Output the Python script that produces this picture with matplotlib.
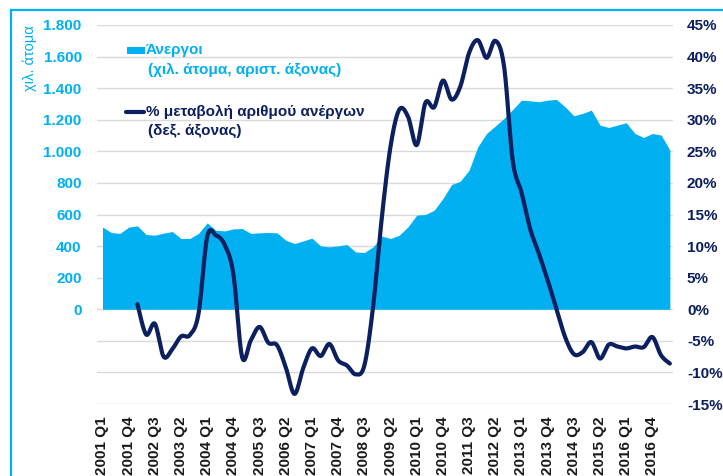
import numpy as np
import matplotlib
matplotlib.use('Agg')
import matplotlib.pyplot as plt
from matplotlib.lines import Line2D
from matplotlib.patches import Rectangle
from matplotlib.ticker import FuncFormatter

plt.rcParams['font.family'] = ['Liberation Sans', 'DejaVu Sans']

# τρίμηνα 2001 Q1 - 2017 Q2
quarters = [f'{y} Q{q}' for y in range(2001, 2018) for q in range(1, 5)][:66]

# άνεργοι, χιλ. άτομα (αριστ. άξονας)
unemployed = [521, 486, 480, 520, 528, 473, 469, 482, 492, 448, 448, 480, 547, 500, 496, 509, 511,
              480, 484, 486, 484, 437, 416, 433, 450, 401, 395, 401, 410, 363, 359, 395, 463,
              448, 469, 522, 596, 600, 627, 701, 790, 811, 881, 1029, 1113, 1160, 1208, 1265, 1324,
              1320, 1314, 1324, 1329, 1282, 1225, 1240, 1261, 1166, 1151, 1166, 1181, 1113, 1088,
              1113, 1103, 1008]

# % μεταβολή αριθμού ανέργων (δεξ. άξονας), από 2002 Q1
pct_change = [0.8, -4.0, -2.3, -7.5, -6.3, -4.3, -4.1, -0.7, 11.5, 11.7, 10.2, 5.5, -7.6,
              -4.9, -2.8, -5.3, -5.7, -9.2, -13.4, -9.3, -6.2, -7.4, -5.5, -8.1, -8.9, -10.3,
              -8.9, 0.4, 14.5, 25.8, 31.6, 30.5, 26.0, 32.7, 32.0, 36.2, 33.2, 35.3, 40.6, 42.6,
              39.8, 42.5, 38.5, 23.5, 18.5, 12.7, 8.8, 4.6, 0.1, -4.4, -7.1, -6.8, -5.2, -7.8,
              -5.6, -5.9, -6.2, -5.9, -6.0, -4.4, -7.3, -8.6]
pct_start = 4

LIGHT = '#00B0F0'
NAVY = '#0C1F5E'


def smooth(x, y, n=24):
    # εξομάλυνση καμπύλης όπως στο Excel (Bezier μέσα από τα σημεία)
    x = np.asarray(x, float)
    y = np.asarray(y, float)
    xs, ys = [], []
    t = np.linspace(0, 1, n)
    for k in range(len(x) - 1):
        k0 = max(k - 1, 0)
        k3 = min(k + 2, len(x) - 1)
        c1x = x[k] + (x[k + 1] - x[k0]) / 6
        c1y = y[k] + (y[k + 1] - y[k0]) / 6
        c2x = x[k + 1] - (x[k3] - x[k]) / 6
        c2y = y[k + 1] - (y[k3] - y[k]) / 6
        bx = (1 - t) ** 3 * x[k] + 3 * (1 - t) ** 2 * t * c1x + 3 * (1 - t) * t ** 2 * c2x + t ** 3 * x[k + 1]
        by = (1 - t) ** 3 * y[k] + 3 * (1 - t) ** 2 * t * c1y + 3 * (1 - t) * t ** 2 * c2y + t ** 3 * y[k + 1]
        xs.extend(bx)
        ys.extend(by)
    return xs, ys


W, H = 723, 476
fig = plt.figure(figsize=(W / 100, H / 100), dpi=100)
ax = fig.add_axes([97 / W, 1 - 404 / H, (673 - 97) / W, (404 - 25) / H])

xi = np.arange(len(unemployed))
ax.fill_between(xi, 0, unemployed, color=LIGHT, lw=0)
ax.set_xlim(-0.63, 65.36)
ax.set_ylim(-600, 1800)
ax.set_yticks(range(-600, 2000, 200))
ax.yaxis.set_major_formatter(FuncFormatter(
    lambda v, p: '' if v < 0 else f'{int(v):,}'.replace(',', '.')))
ax.grid(axis='y', color='#DADADA', lw=1)
ax.set_axisbelow(True)
ax.set_xticks(xi[::3])
ax.set_xticklabels(quarters[::3], rotation=90, fontweight='bold', fontsize=11, color='#1A1A1A')
ax.tick_params(axis='x', length=0, pad=9)
ax.tick_params(axis='y', length=0, pad=11, labelsize=11, labelcolor=LIGHT)
for lbl in ax.get_yticklabels():
    lbl.set_fontweight('bold')

ax2 = ax.twinx()
px = np.arange(pct_start, pct_start + len(pct_change))
sx, sy = smooth(px, pct_change)
ax2.plot(sx, sy, color=NAVY, lw=3, solid_capstyle='round')
ax2.set_ylim(-15, 45)
ax2.set_yticks(range(-15, 50, 5))
ax2.yaxis.set_major_formatter(FuncFormatter(lambda v, p: f'{v:.0f}%'))
ax2.tick_params(axis='y', length=0, pad=10, labelsize=11, labelcolor=NAVY)
for lbl in ax2.get_yticklabels():
    lbl.set_fontweight('bold')

for a in (ax, ax2):
    for s in a.spines.values():
        s.set_visible(False)

fig.text(30 / W, 1 - 58 / H, 'χιλ. άτομα', rotation=90, color=LIGHT, fontsize=10.5,
         ha='center', va='center')

# υπόμνημα
fig.add_artist(Rectangle((127 / W, 1 - 54 / H), 18 / W, 7 / H, transform=fig.transFigure,
                         color=LIGHT, lw=0))
fig.text(146 / W, 1 - 50 / H, 'Άνεργοι', color=LIGHT, fontsize=11, fontweight='bold', va='center')
fig.text(148 / W, 1 - 70 / H, '(χιλ. άτομα, αριστ. άξονας)', color=LIGHT, fontsize=11,
         fontweight='bold', va='center')
fig.add_artist(Line2D([126 / W, 144 / W], [1 - 112 / H] * 2, transform=fig.transFigure,
                      color=NAVY, lw=3, solid_capstyle='round'))
fig.text(146 / W, 1 - 112 / H, '% μεταβολή αριθμού ανέργων', color=NAVY, fontsize=11,
         fontweight='bold', va='center')
fig.text(148 / W, 1 - 131 / H, '(δεξ. άξονας)', color=NAVY, fontsize=11, fontweight='bold',
         va='center')

# πλαίσιο
fig.add_artist(Line2D([11 / W, 11 / W], [0, 1 - 10 / H], transform=fig.transFigure,
                      color=LIGHT, lw=1.6))
fig.add_artist(Line2D([11 / W, 1], [1 - 10 / H] * 2, transform=fig.transFigure,
                      color=LIGHT, lw=1.6))

fig.savefig('out.png', dpi=100)
